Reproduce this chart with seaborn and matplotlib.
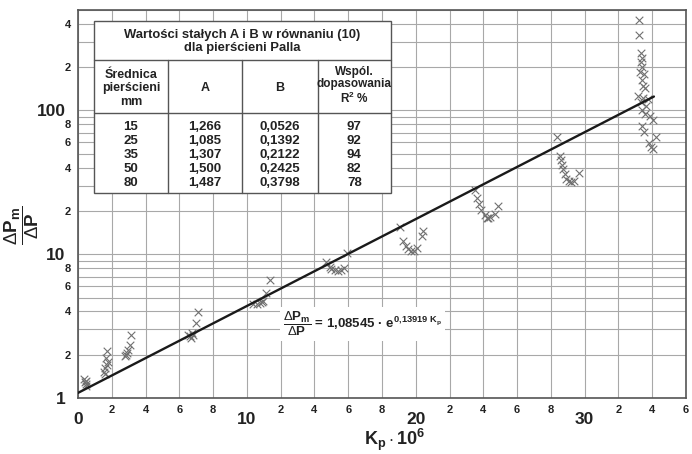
import numpy as np
import pandas as pd
import matplotlib
matplotlib.use("Agg")
import matplotlib.pyplot as plt
import seaborn as sns
from matplotlib.ticker import FixedLocator, FuncFormatter
from matplotlib.patches import Rectangle

# ---- data ----
kp = [0.36, 0.40, 0.45, 0.50, 0.45,
      1.73, 1.68, 1.79, 1.69, 1.61, 1.52, 1.60,
      3.15, 3.06, 2.96, 2.92, 2.86, 2.76,
      7.12, 6.98, 6.73, 6.63, 6.53, 6.78, 6.67,
      11.36, 11.16, 10.97, 10.77, 10.57, 10.37, 10.87,
      15.90, 14.71, 14.91, 15.21, 15.40, 15.60, 15.74, 15.00,
      19.05, 19.25, 19.40, 19.55, 19.74, 19.88, 20.08, 20.34, 20.43,
      23.49, 23.63, 23.75, 23.89, 24.08, 24.28, 24.42, 24.67, 24.87, 24.20,
      28.36, 28.52, 28.58, 28.64, 28.72, 28.82, 28.92, 29.05, 29.21, 29.35, 29.66,
      33.20, 33.20, 33.31, 33.37, 33.33, 33.41, 33.30, 33.51, 33.37, 33.45, 33.57,
      33.15, 33.45, 33.75, 33.35, 33.65, 33.41, 33.60, 33.85, 34.04, 33.41, 33.49,
      34.24, 33.80, 33.95, 34.04]
dp = [1.36, 1.29, 1.25, 1.22, 1.32,
      2.13, 1.89, 1.79, 1.69, 1.61, 1.52, 1.48,
      2.74, 2.33, 2.15, 2.04, 1.99, 1.96,
      3.98, 3.34, 2.84, 2.70, 2.74, 2.74, 2.60,
      6.60, 5.38, 4.72, 4.58, 4.54, 4.54, 4.65,
      10.2, 8.86, 8.15, 7.74, 7.60, 7.80, 8.07, 7.95,
      15.4, 12.4, 11.5, 10.9, 10.5, 10.6, 11.1, 13.5, 14.5,
      28.1, 24.8, 22.5, 20.2, 18.7, 17.9, 18.1, 18.9, 21.6, 17.9,
      65.2, 48.0, 44.9, 42.0, 39.4, 36.4, 33.5, 32.1, 31.8, 32.1, 37.0,
      425, 335, 250, 233, 217, 200, 185, 180, 162, 149, 144,
      127, 123, 121, 114, 108, 100, 95, 92, 86, 78.5, 70.8,
      65, 59, 55.5, 54]

fit_A = 1.08545
fit_B = 0.13919
fit_x = [0.0, 34.1]

table_title = "Wartości stałych A i B w równaniu (10)\ndla pierścieni Palla"
table_header = ["Średnica\npierścieni\nmm", "A", "B", "Wspól.\ndopasowania\nR$^{\\mathbf{2}}$ %"]
diam = ["15", "25", "35", "50", "80"]
col_A = ["1,266", "1,085", "1,307", "1,500", "1,487"]
col_B = ["0,0526", "0,1392", "0,2122", "0,2425", "0,3798"]
col_R2 = ["97", "92", "94", "82", "78"]

x_major = [0, 10, 20, 30]
x_minor = [v for v in range(2, 37, 2) if v % 10 != 0]
y_major = [1, 10, 100]
y_minor = [m * 10 ** e for e in range(0, 3) for m in range(2, 10) if m * 10 ** e <= 500]

# ---- style ----
sns.set_style("white")
plt.rcParams["font.family"] = ["Liberation Sans", "DejaVu Sans"]
plt.rcParams["mathtext.fontset"] = "custom"
plt.rcParams["mathtext.rm"] = "Liberation Sans"
plt.rcParams["mathtext.bf"] = "Liberation Sans:bold"
plt.rcParams["mathtext.it"] = "Liberation Sans:italic"

fig = plt.figure(figsize=(6.92, 4.54), dpi=100)
ax = fig.add_axes([78 / 692, 1 - 398 / 454, 608 / 692, 388 / 454])

df = pd.DataFrame({"kp": kp, "dp": dp})
sns.scatterplot(data=df, x="kp", y="dp", marker="x", color="#707070",
                s=30, linewidth=0.8, ax=ax, zorder=3, legend=False)

fit_y = [fit_A * np.exp(fit_B * x) for x in fit_x]
sns.lineplot(x=fit_x, y=fit_y, color="#1a1a1a", linewidth=1.7, ax=ax, zorder=4)

ax.set_yscale("log")
ax.set_xlim(0, 36)
ax.set_ylim(1, 500)

ax.xaxis.set_major_locator(FixedLocator(x_major))
ax.xaxis.set_minor_locator(FixedLocator(x_minor))
ax.yaxis.set_major_locator(FixedLocator(y_major))
ax.yaxis.set_minor_locator(FixedLocator(y_minor))

ax.xaxis.set_major_formatter(FuncFormatter(lambda v, p: f"{int(v)}"))
ax.xaxis.set_minor_formatter(FuncFormatter(lambda v, p: f"{int(round(v)) % 10}"))
ax.yaxis.set_major_formatter(FuncFormatter(lambda v, p: f"{int(v)}"))


def yminor(v, p):
    e = np.floor(np.log10(v) + 1e-9)
    m = int(round(v / 10 ** e))
    return str(m) if m in (2, 4, 6, 8) else ""


ax.yaxis.set_minor_formatter(FuncFormatter(yminor))

ax.tick_params(axis="both", which="both", length=0, colors="#222222")
ax.tick_params(axis="x", which="major", labelsize=12.5, pad=10)
ax.tick_params(axis="x", which="minor", labelsize=8, pad=5)
ax.tick_params(axis="y", which="major", labelsize=12.5, pad=9)
ax.tick_params(axis="y", which="minor", labelsize=8, pad=5)
for lab in ax.get_xticklabels(which="both") + ax.get_yticklabels(which="both"):
    lab.set_fontweight("bold")

ax.grid(True, which="both", color="#a8a8a8", linewidth=0.8)
ax.set_axisbelow(True)
for s in ax.spines.values():
    s.set_color("#555555")
    s.set_linewidth(1.2)

ax.set_xlabel(r"$\mathbf{K_p \cdot 10^6}$", fontsize=13, color="#222222")
ax.xaxis.set_label_coords(0.521, -0.108)
ax.xaxis.label.set_va("center")
ax.set_ylabel(r"$\dfrac{\Delta\mathbf{P_m}}{\Delta\mathbf{P}}$", fontsize=13.5,
              color="#222222")
ax.yaxis.set_label_coords(-0.093, 0.446)
ax.yaxis.label.set_va("center")

# ---- equation ----
ax.text(0.337, 0.19,
        r"$\dfrac{\Delta\mathbf{P_m}}{\Delta\mathbf{P}}$ = 1,08545 · $\mathbf{e}^{\mathbf{0{,}13919\ K_p}}$",
        transform=ax.transAxes, fontsize=9.5, fontweight="bold", color="#222222",
        ha="left", va="center", zorder=6,
        bbox=dict(facecolor="white", edgecolor="none", pad=2))

# ---- table ----
tx0, tx1 = 0.026, 0.515
cols = [0.026, 0.148, 0.270, 0.394, 0.515]
ty_top, ty_title, ty_head, ty_bot = 0.972, 0.871, 0.734, 0.529
tc = "#555555"
ax.add_patch(Rectangle((tx0, ty_bot), tx1 - tx0, ty_top - ty_bot, transform=ax.transAxes,
                       facecolor="white", edgecolor=tc, linewidth=1.0, zorder=5))
ax.plot([tx0, tx1], [ty_title, ty_title], transform=ax.transAxes, color=tc, lw=1.0, zorder=6)
ax.plot([tx0, tx1], [ty_head, ty_head], transform=ax.transAxes, color=tc, lw=1.0, zorder=6)
for c in cols[1:-1]:
    ax.plot([c, c], [ty_bot, ty_title], transform=ax.transAxes, color=tc, lw=1.0, zorder=6)

tkw = dict(transform=ax.transAxes, ha="center", va="center", fontweight="bold",
           color="#222222", zorder=7)
ax.text((tx0 + tx1) / 2, 0.918, table_title, fontsize=9.4, linespacing=1.1, **tkw)
centers = [(cols[i] + cols[i + 1]) / 2 for i in range(4)]
head_y = [0.798, 0.798, 0.798, 0.804]
head_fs = [9, 9, 9, 8.5]
head_ls = [1.2, 1.2, 1.2, 1.05]
for i, h in enumerate(table_header):
    ax.text(centers[i], head_y[i], h, fontsize=head_fs[i], linespacing=head_ls[i], **tkw)
row_y = [0.698, 0.662, 0.625, 0.591, 0.555]
for j in range(5):
    for i, colv in enumerate([diam, col_A, col_B, col_R2]):
        ax.text(centers[i], row_y[j], colv[j], fontsize=9.5, **tkw)

fig.savefig("out.png", dpi=100, facecolor="white")
